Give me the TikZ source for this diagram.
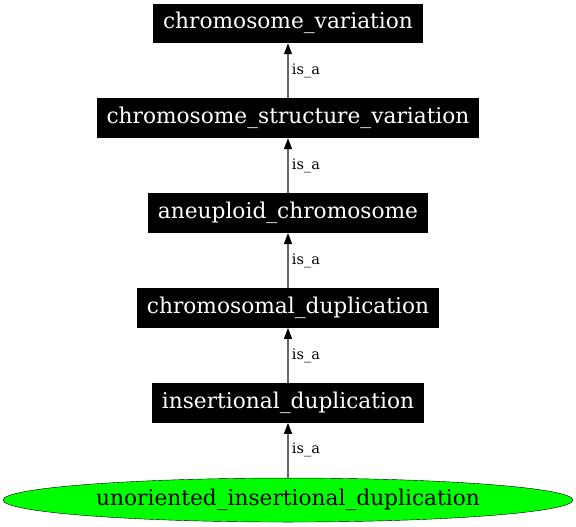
\documentclass[tikz,border=0pt]{standalone}
\usepackage{fontspec}
\setmainfont{DejaVu Serif}
\usetikzlibrary{arrows.meta,positioning,shapes.geometric}

\begin{document}
\begin{tikzpicture}[auto,node distance=55pt,>={Triangle[length=11pt,width=8pt,black]}]

      \tikzstyle{termbox}=[shape=rectangle,fill=black,text=white,minimum height=39.5pt,inner xsep=10pt,font=\fontsize{21.7}{25}\selectfont]
      \tikzstyle{leafnode}=[shape=ellipse,draw=black,fill=green,minimum width=570pt,minimum height=44pt,inner sep=0pt,font=\fontsize{21.7}{25}\selectfont]
      \tikzstyle{isa}=[draw=black!60,line width=1.2pt]
      \tikzstyle{isalabel}=[right,text=black,font=\fontsize{14.5}{17}\selectfont]

      \useasboundingbox (0pt,0pt) rectangle (576pt,-527pt);

      \node[termbox] (A) at (288pt,-23.3pt) {chromosome\_variation};
      \node[termbox] (B) [below=of A] {chromosome\_structure\_variation};
      \node[termbox] (C) [below=of B] {aneuploid\_chromosome};
      \node[termbox] (D) [below=of C] {chromosomal\_duplication};
      \node[termbox] (E) [below=of D] {insertional\_duplication};
      \node[leafnode] (F) [below=of E] {unoriented\_insertional\_duplication};

      \path [->,isa] (B) edge node[isalabel] {is\_a} (A);
      \path [->,isa] (C) edge node[isalabel] {is\_a} (B);
      \path [->,isa] (D) edge node[isalabel] {is\_a} (C);
      \path [->,isa] (E) edge node[isalabel] {is\_a} (D);
      \path [->,isa] (F) edge node[isalabel] {is\_a} (E);
    \end{tikzpicture}
\end{document}
